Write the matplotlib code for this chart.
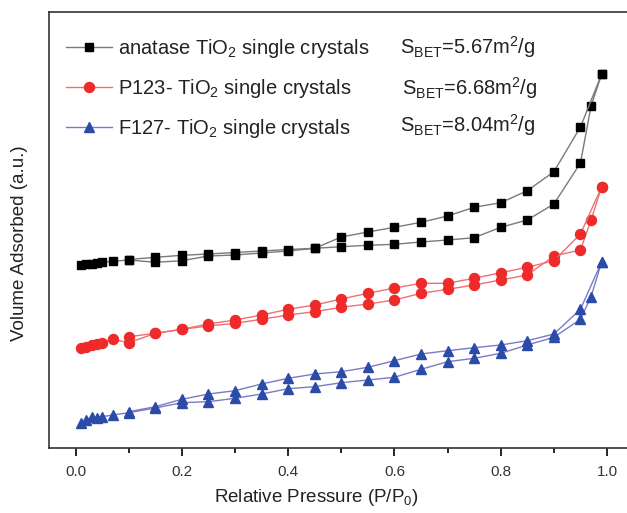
import matplotlib
matplotlib.use("Agg")
import matplotlib.pyplot as plt
import numpy as np

plt.rcParams['font.family'] = ['Liberation Sans', 'DejaVu Sans']
plt.rcParams['mathtext.fontset'] = 'custom'
plt.rcParams['mathtext.rm'] = 'Liberation Sans'
plt.rcParams['mathtext.it'] = 'Liberation Sans:italic'

# ---- data (volume in arbitrary units) ----
x_ads = [0.01, 0.02, 0.03, 0.04, 0.05, 0.07, 0.10, 0.15, 0.20, 0.25, 0.30, 0.35, 0.40,
         0.45, 0.50, 0.55, 0.60, 0.65, 0.70, 0.75, 0.80, 0.85, 0.90, 0.95, 0.97, 0.99]
x_des = [0.99, 0.95, 0.90, 0.85, 0.80, 0.75, 0.70, 0.65, 0.60, 0.55, 0.50, 0.45,
         0.40, 0.35, 0.30, 0.25, 0.20, 0.15, 0.10]

anatase_ads = [182.7, 183.7, 184.3, 185.0, 185.7, 186.7, 188.0, 185.7, 187.3, 192.0, 193.0,
               195.0, 197.0, 199.7, 201.3, 202.7, 203.7, 206.0, 208.0, 210.3, 220.7, 228.0,
               244.0, 285.0, 342.0, 374.0]
anatase_des = [374.0, 321.0, 276.3, 257.3, 245.3, 240.7, 232.0, 225.7, 220.7, 216.0, 211.0,
               199.7, 198.5, 197.0, 195.5, 194.0, 192.7, 190.7, 188.5]

p123_ads = [99.7, 101.3, 102.7, 104.0, 105.3, 108.7, 105.3, 114.7, 118.7, 122.0, 124.7,
            128.7, 133.0, 136.3, 140.7, 144.0, 148.0, 154.7, 158.7, 163.0, 168.0, 173.0,
            192.0, 198.0, 228.0, 261.3]
p123_des = [261.3, 214.0, 187.3, 180.7, 175.3, 169.7, 164.7, 164.7, 160.0, 154.7, 149.0,
            143.0, 138.7, 133.0, 128.0, 124.0, 118.7, 114.7, 111.3]

f127_ads = [24.7, 28.0, 30.7, 29.7, 31.3, 33.0, 35.3, 40.0, 45.3, 46.3, 49.7, 54.0, 59.3,
            61.3, 65.3, 68.0, 70.7, 78.7, 86.3, 89.7, 94.7, 103.0, 110.7, 128.7, 151.3, 186.3]
f127_des = [186.3, 138.7, 114.0, 107.3, 103.0, 100.3, 97.3, 94.0, 87.3, 80.7, 76.3, 74.0,
            69.7, 64.0, 57.3, 54.0, 48.7, 41.3, 36.3]

labels = ["anatase TiO$_2$ single crystals", "P123- TiO$_2$ single crystals",
          "F127- TiO$_2$ single crystals"]
sbet = ["S$_{\\mathrm{BET}}$=5.67m$^2$/g", "S$_{\\mathrm{BET}}$=6.68m$^2$/g",
        "S$_{\\mathrm{BET}}$=8.04m$^2$/g"]

W, H = 627, 513
fig = plt.figure(figsize=(W / 100, H / 100), dpi=100)
ax = fig.add_axes([49 / W, 65 / H, (633.6 - 49) / W, (448 - 12) / H])

series = [
    (anatase_ads, anatase_des, 's', '#000000', '#7a7a7a', 6.2),
    (p123_ads, p123_des, 'o', '#ee2a2a', '#f07070', 7.2),
    (f127_ads, f127_des, '^', '#2b4ba8', '#7a7ac8', 7.8),
]
handles = []
for (ya, yd, mk, mc, lc, ms), lab in zip(series, labels):
    h, = ax.plot(x_ads, ya, marker=mk, color=lc, mfc=mc, mec=mc, ms=ms, lw=1.0, label=lab)
    ax.plot(x_des, yd, marker=mk, color=lc, mfc=mc, mec=mc, ms=ms, lw=1.0)
    handles.append(h)

ax.set_xlim(-0.05, 1.05)
ax.set_ylim(0, 436)
ax.set_xticks(np.arange(0, 1.01, 0.2))
ax.set_xticks(np.arange(0.1, 1.0, 0.2), minor=True)
ax.set_xticklabels(["0.0", "0.2", "0.4", "0.6", "0.8", "1.0"])
ax.set_yticks([])
ax.tick_params(axis='x', which='major', direction='out', length=6, width=1.2,
               labelsize=11, pad=6, labelcolor='#333333')
ax.tick_params(axis='x', which='minor', direction='out', length=3.5, width=1.2)
for s in ax.spines.values():
    s.set_linewidth(1.2)
    s.set_color('#333333')
ax.spines['right'].set_visible(False)

leg = ax.legend(handles=handles, loc='upper left', bbox_to_anchor=(66 / W, 1 - 37 / H),
                bbox_transform=fig.transFigure, frameon=False, fontsize=14.5,
                handlelength=2.3, handletextpad=0.3, labelspacing=0.85,
                borderpad=0, borderaxespad=0, numpoints=1)
for t in leg.get_texts():
    t.set_color('#222222')

for i, (txt, yy, xx) in enumerate(zip(sbet, [47, 88, 125], [400, 402, 400])):
    fig.text(xx / W, 1 - yy / H, txt, fontsize=14.5, va='center', ha='left', color='#222222')

fig.text(316 / W, 1 - 497 / H, "Relative Pressure (P/P$_0$)", fontsize=13.5,
         ha='center', va='center', color='#222222')
fig.text(20 / W, 1 - 243 / H, "Volume Adsorbed (a.u.)", fontsize=13.5, rotation=90,
         ha='center', va='center', color='#222222')

fig.savefig("out.png", dpi=100)
